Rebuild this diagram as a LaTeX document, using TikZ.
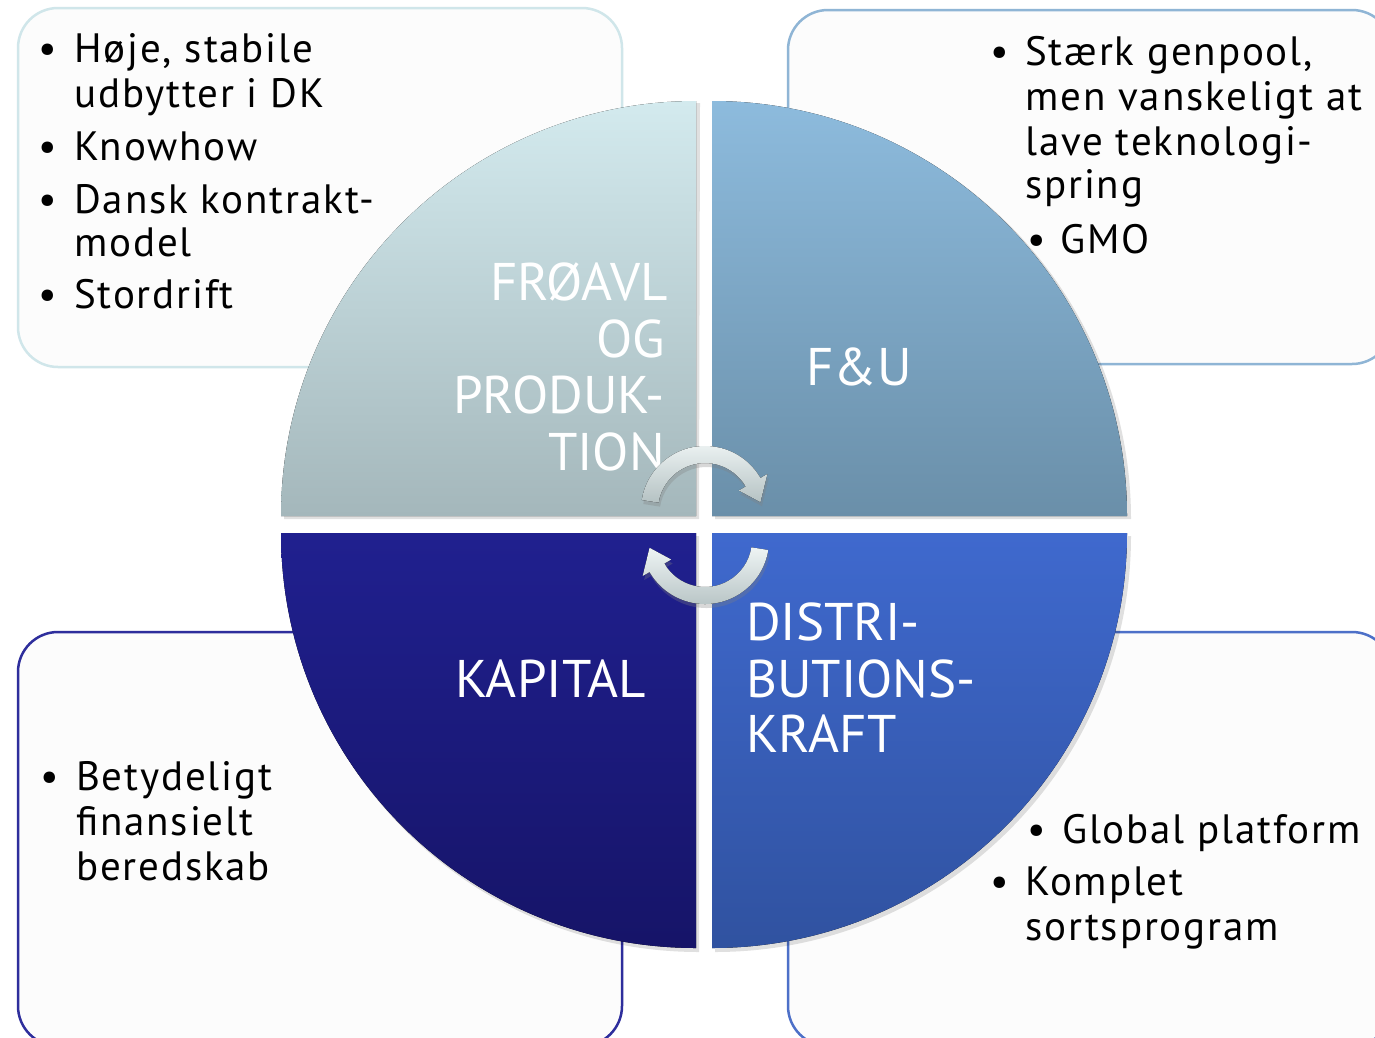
\documentclass[tikz,border=0pt]{standalone}
\usepackage{fontspec}
\setmainfont{PT Sans}
\newfontfamily\itemfamily[LetterSpace=4.5]{PT Sans}
\newfontfamily\labelfamily{PT Sans}
\usetikzlibrary{shadows}
\definecolor{tlborder}{HTML}{D0E6EA}
\definecolor{trborder}{HTML}{8FB5D5}
\definecolor{blborder}{HTML}{2E2E9C}
\definecolor{brborder}{HTML}{4D70C8}
\definecolor{tltop}{HTML}{D3EAEE}
\definecolor{tlbot}{HTML}{A4B7BB}
\definecolor{trtop}{HTML}{8DBBDD}
\definecolor{trbot}{HTML}{6A8FA9}
\definecolor{bltop}{HTML}{20208F}
\definecolor{blbot}{HTML}{161468}
\definecolor{brtop}{HTML}{3F69CE}
\definecolor{brbot}{HTML}{3052A0}
\definecolor{arrtop}{HTML}{EEF4F4}
\definecolor{arrbot}{HTML}{B5C2C3}
\definecolor{boxfill}{HTML}{FCFCFC}
\tikzset{
  infobox/.style={line width=2.5pt, rounded corners=40pt, fill=boxfill},
  quadshadow/.style={fill=black, opacity=0.12},
  itemtext/.style={anchor=base west, inner sep=0pt, font=\itemfamily\fontsize{41}{45}\selectfont},
  bulletmark/.style={anchor=base, inner sep=0pt, font=\fontsize{41}{45}\selectfont},
  quadlabel/.style={text=white, inner sep=0pt, font=\labelfamily\fontsize{53}{56}\selectfont},
  cyclearrow/.style={top color=arrtop, bottom color=arrbot,
    drop shadow={opacity=0.3, shadow xshift=1.5pt, shadow yshift=-4pt}}
}
\begin{document}
\begin{tikzpicture}[x=1pt,y=-1pt]
\useasboundingbox (0,0) rectangle (1375,1037);
\clip (0,0) rectangle (1375,1037);
\fill[white] (0,0) rectangle (1375,1037);

% boxes
\draw[infobox, draw=tlborder] (18,8) rectangle (622,367);
\draw[infobox, draw=trborder] (788,10) rectangle (1392,364);
\draw[infobox, draw=blborder] (18,632) rectangle (622,1046);
\draw[infobox, draw=brborder] (788,632) rectangle (1392,1046);

% quadrant shadows
\fill[quadshadow] (699,519) -- (284,519) arc[start angle=180, end angle=270, radius=416] -- cycle;
\fill[quadshadow] (715,519) -- (715,103) arc[start angle=270, end angle=360, radius=416] -- cycle;
\fill[quadshadow] (699,536) -- (699,952) arc[start angle=90, end angle=180, radius=416] -- cycle;
\fill[quadshadow] (715,536) -- (1131,536) arc[start angle=0, end angle=90, radius=416] -- cycle;

% quadrants
\fill[top color=tltop, bottom color=tlbot] (696,516) -- (281,516) arc[start angle=180, end angle=270, radius=415] -- cycle;
\fill[top color=trtop, bottom color=trbot] (712,516) -- (712,101) arc[start angle=270, end angle=360, radius=415] -- cycle;
\fill[top color=bltop, bottom color=blbot] (696,533) -- (696,948) arc[start angle=90, end angle=180, radius=415] -- cycle;
\fill[top color=brtop, bottom color=brbot] (712,533) -- (1127,533) arc[start angle=0, end angle=90, radius=415] -- cycle;

% top-left box text
\node[bulletmark] (tlb1) at (48,62) {•};
\node[itemtext] (tl1a) at (74,62) {Høje, stabile};
\node[itemtext] (tl1b) at (74,107) {udbytter i DK};
\node[bulletmark] (tlb2) at (48,160) {•};
\node[itemtext] (tl2) at (74,160) {Knowhow};
\node[bulletmark] (tlb3) at (48,213) {•};
\node[itemtext] (tl3a) at (74,213) {Dansk kontrakt-};
\node[itemtext] (tl3b) at (74,256) {model};
\node[bulletmark] (tlb4) at (48,308) {•};
\node[itemtext] (tl4) at (74,308) {Stordrift};

% top-right box text
\node[bulletmark] (trb1) at (1000,65) {•};
\node[itemtext] (tr1a) at (1025,65) {Stærk genpool,};
\node[itemtext] (tr1b) at (1025,110) {men vanskeligt at};
\node[itemtext] (tr1c) at (1025,155) {lave teknologi-};
\node[itemtext] (tr1d) at (1025,198) {spring};
\node[bulletmark] (trb2) at (1037,253) {•};
\node[itemtext] (tr2) at (1060,253) {GMO};

% bottom-left box text
\node[bulletmark] (blb1) at (50,790) {•};
\node[itemtext] (bl1a) at (76,790) {Betydeligt};
\node[itemtext] (bl1b) at (76,835) {finansielt};
\node[itemtext] (bl1c) at (76,880) {beredskab};

% bottom-right box text
\node[bulletmark] (brb1) at (1037,843) {•};
\node[itemtext] (br1) at (1062,843) {Global platform};
\node[bulletmark] (brb2) at (1000,895) {•};
\node[itemtext] (br2a) at (1025,895) {Komplet};
\node[itemtext] (br2b) at (1025,940) {sortsprogram};

% quadrant labels
\node[quadlabel, anchor=base east] (q1a) at (668,300) {FRØAVL};
\node[quadlabel, anchor=base east] (q1b) at (665,357) {OG};
\node[quadlabel, anchor=base east] (q1c) at (665,413) {PRODUK-};
\node[quadlabel, anchor=base east] (q1d) at (665,470) {TION};
\node[quadlabel, anchor=base] (q2) at (859,385) {F\&U};
\node[quadlabel, anchor=base west] (q3) at (455,697) {KAPITAL};
\node[quadlabel, anchor=base west] (q4a) at (746,640) {DISTRI-};
\node[quadlabel, anchor=base west] (q4b) at (746,697) {BUTIONS-};
\node[quadlabel, anchor=base west] (q4c) at (746,752) {KRAFT};

% cycle arrows
\begin{scope}[shift={(705,510)}]
\fill[cyclearrow] (189:64) arc[start angle=189, end angle=330, radius=64]
  -- (330:72) -- (352:56) -- (330:39) -- (330:47)
  arc[start angle=330, end angle=189, radius=47] -- cycle;
\end{scope}
\begin{scope}[shift={(705,540)}]
\fill[cyclearrow] (9:64) arc[start angle=9, end angle=150, radius=64]
  -- (150:72) -- (172:56) -- (150:39) -- (150:47)
  arc[start angle=150, end angle=9, radius=47] -- cycle;
\end{scope}
\end{tikzpicture}
\end{document}
